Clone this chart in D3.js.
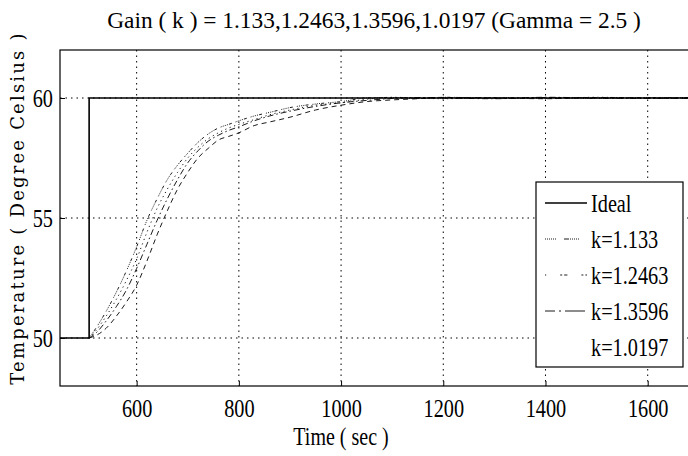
<!DOCTYPE html>
<html><head><meta charset="utf-8">
<script src="https://cdn.jsdelivr.net/npm/d3@7/dist/d3.min.js"></script>
<style>body{margin:0;background:#fff}svg{display:block}</style>
</head><body>
<script>
const titleText = "Gain ( k ) = 1.133,1.2463,1.3596,1.0197 (Gamma = 2.5 )";
const xLabel = "Time ( sec )";
const yLabel = "Temperature ( Degree Celsius )";
const xTicks = [600, 800, 1000, 1200, 1400, 1600];
const yTicks = [50, 55, 60];
const seriesNames = ["Ideal", "k=1.133", "k=1.2463", "k=1.3596", "k=1.0197"];

const idealT = [450, 507, 507, 1700];
const idealV = [50, 50, 60, 60];

const time = [507, 520, 540, 560, 580, 600, 620, 640, 660, 680, 700, 720, 740, 760, 780, 800, 830, 860, 900, 950, 1000, 1050, 1100, 1150, 1200, 1300, 1400, 1500, 1600, 1700];
const k1133  = [50, 50.4, 51.1, 51.9, 52.8, 53.8, 54.9, 55.8, 56.6, 57.2, 57.7, 58.15, 58.5, 58.75, 58.9, 59.05, 59.25, 59.4, 59.6, 59.75, 59.85, 60.0, 60.02, 59.98, 60.03, 60.0, 60.02, 59.98, 60.02, 60.0];
const k12463 = [50, 50.3, 50.9, 51.6, 52.4, 53.3, 54.4, 55.4, 56.2, 56.9, 57.5, 57.95, 58.3, 58.55, 58.75, 58.9, 59.1, 59.3, 59.5, 59.7, 59.8, 59.95, 60.03, 60.0, 59.97, 60.02, 59.98, 60.03, 60.0, 60.02];
const k13596 = [50, 50.2, 50.7, 51.3, 52.0, 52.9, 53.9, 54.9, 55.8, 56.6, 57.3, 57.8, 58.2, 58.45, 58.65, 58.8, 59.05, 59.25, 59.45, 59.65, 59.8, 59.9, 59.98, 60.02, 60.0, 59.97, 60.03, 60.0, 59.98, 60.03];
const k10197 = [50, 50.1, 50.4, 50.9, 51.5, 52.2, 53.2, 54.3, 55.3, 56.2, 56.9, 57.5, 57.9, 58.25, 58.4, 58.55, 58.85, 59.0, 59.2, 59.5, 59.7, 59.85, 59.92, 59.97, 60.02, 60.0, 59.97, 60.02, 60.0, 59.98];

const W = 688, H = 456;
const svg = d3.select("body").append("svg").attr("width", W).attr("height", H);
const x = d3.scaleLinear().domain([450, 1700]).range([60, 698.8]);
const y = d3.scaleLinear().domain([48, 62]).range([386, 50]);
const serif = "'Liberation Serif','Times New Roman',serif";

// grid
const grid = svg.append("g").attr("stroke", "#000").attr("stroke-width", 1).attr("stroke-dasharray", "1.5,4");
grid.selectAll(".gx").data(xTicks).join("line")
  .attr("x1", d => x(d)).attr("x2", d => x(d)).attr("y1", y(62)).attr("y2", y(48));
grid.selectAll(".gy").data(yTicks).join("line")
  .attr("x1", x(450)).attr("x2", x(1700)).attr("y1", d => y(d)).attr("y2", d => y(d));

const SX = 0.78;
const gx = svg.append("g").attr("transform", `translate(0,${y(48)})`)
  .call(d3.axisBottom(x).tickValues(xTicks).tickSize(-5).tickPadding(13).tickFormat(d3.format("d")));
gx.select(".domain").remove();
gx.selectAll("line").attr("stroke", "#000");
gx.selectAll("text").attr("font-family", serif).attr("font-size", 26).attr("fill", "#000")
  .attr("transform", `scale(${SX},1)`);
const gy = svg.append("g").attr("transform", `translate(${x(450)},0)`)
  .call(d3.axisLeft(y).tickValues(yTicks).tickSize(-5).tickPadding(7).tickFormat(d3.format("d")));
gy.select(".domain").remove();
gy.selectAll("line").attr("stroke", "#000");
gy.selectAll("text").attr("font-family", serif).attr("font-size", 26).attr("fill", "#000")
  .attr("x", -7 / SX).attr("transform", `scale(${SX},1)`);

// frame
svg.append("rect").attr("x", x(450)).attr("y", y(62)).attr("width", x(1700) - x(450)).attr("height", y(48) - y(62))
  .attr("fill", "none").attr("stroke", "#000").attr("stroke-width", 1.2);

// lines
const line = d3.line().x(d => x(d[0])).y(d => y(d[1]));
const plot = svg.append("g");
plot.append("path").datum(idealT.map((t, i) => [t, idealV[i]])).attr("d", line)
  .attr("fill", "none").attr("stroke", "#000").attr("stroke-width", 1.6);
const curveLine = d3.line().x(d => x(d[0])).y(d => y(d[1])).curve(d3.curveMonotoneX);
const styles = [
  {v: k1133, dash: "1,1.2,1,1.2,1,1.2,1,1.2,3,4"},
  {v: k12463, dash: "1.2,3.5"},
  {v: k13596, dash: "6,3,1.5,3"},
  {v: k10197, dash: "5,4"}
];
styles.forEach(s => {
  plot.append("path").datum(time.map((t, i) => [t, s.v[i]])).attr("d", curveLine)
    .attr("fill", "none").attr("stroke", "#000").attr("stroke-width", 0.9).attr("stroke-dasharray", s.dash);
});

// legend
const lg = svg.append("g");
lg.append("rect").attr("x", 536).attr("y", 182).attr("width", 147).attr("height", 185)
  .attr("fill", "#fff").attr("stroke", "#000").attr("stroke-width", 1.2);
const legDash = [null, "1,1,1,1,1,1,1,1,1,1,1,8,4,0", "1.2,14,2,2,2,0", "10,4,2,4,10,0", "0,100"];
seriesNames.forEach((n, i) => {
  const cy = 203 + i * 36;
  lg.append("line").attr("x1", 545).attr("x2", 587).attr("y1", cy).attr("y2", cy)
    .attr("stroke", "#000").attr("stroke-width", i === 0 ? 1.6 : 0.9)
    .attr("stroke-dasharray", legDash[i]);
  lg.append("text").attr("transform", `translate(591,${cy + 9}) scale(0.78,1)`)
    .attr("font-family", serif).attr("font-size", 26).attr("fill", "#000").text(n);
});

// title & labels
const tt = svg.append("text").attr("text-anchor", "middle").attr("font-family", serif)
  .attr("font-size", 24).attr("fill", "#000").text(titleText);
const tl = tt.node().getComputedTextLength();
tt.attr("transform", `translate(374,28) scale(${534 / tl},1)`);
svg.append("text").attr("transform", "translate(341,445) scale(0.8,1)").attr("text-anchor", "middle")
  .attr("font-family", serif).attr("font-size", 25).attr("fill", "#000").text(xLabel);
svg.append("text").attr("transform", "translate(24,208) rotate(-90)").attr("text-anchor", "middle")
  .attr("font-family", "'DejaVu Serif',serif").attr("font-size", 18).attr("fill", "#000")
  .attr("letter-spacing", 2.2).text(yLabel);
</script>
</body></html>
